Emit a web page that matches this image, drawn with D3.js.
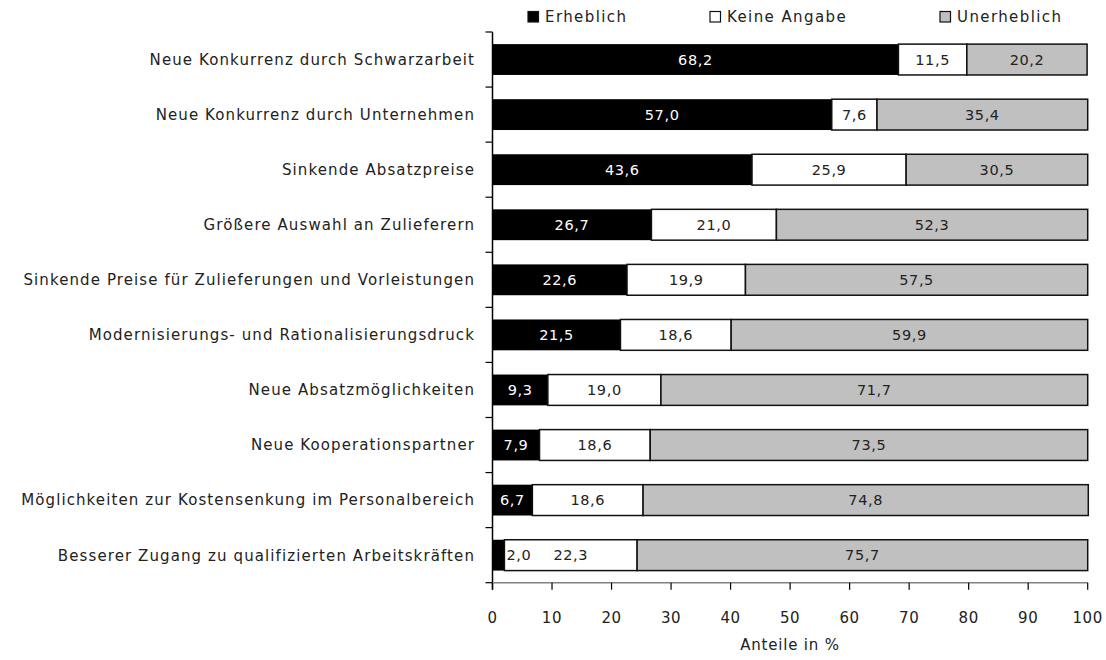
<!DOCTYPE html>
<html><head><meta charset="utf-8">
<script src="https://cdn.jsdelivr.net/npm/d3@7"></script>
<style>
html,body{margin:0;padding:0;background:#fff;}
text{font-family:"DejaVu Sans",sans-serif;}
</style></head>
<body>
<svg id="chart" width="1106" height="660"></svg>
<script>
const categories = [
  "Neue Konkurrenz durch Schwarzarbeit",
  "Neue Konkurrenz durch Unternehmen",
  "Sinkende Absatzpreise",
  "Größere Auswahl an Zulieferern",
  "Sinkende Preise für Zulieferungen und Vorleistungen",
  "Modernisierungs- und Rationalisierungsdruck",
  "Neue Absatzmöglichkeiten",
  "Neue Kooperationspartner",
  "Möglichkeiten zur Kostensenkung im Personalbereich",
  "Besserer Zugang zu qualifizierten Arbeitskräften"
];
const erheblich   = [68.2, 57.0, 43.6, 26.7, 22.6, 21.5, 9.3, 7.9, 6.7, 2.0];
const keineAngabe = [11.5, 7.6, 25.9, 21.0, 19.9, 18.6, 19.0, 18.6, 18.6, 22.3];
const unerheblich = [20.2, 35.4, 30.5, 52.3, 57.5, 59.9, 71.7, 73.5, 74.8, 75.7];
const seriesNames = ["Erheblich", "Keine Angabe", "Unerheblich"];
const xTicks = [0,10,20,30,40,50,60,70,80,90,100];
const xTitle = "Anteile in %";

const fills = ["#000000", "#ffffff", "#c0c0c0"];
const labelColors = ["#ffffff", "#222222", "#222222"];
const seriesValues = [erheblich, keineAngabe, unerheblich];

const svg = d3.select("#chart");
const pLeft = 492.5, pRight = 1087.7, pTop = 32, pBottom = 582.7;

const x = d3.scaleLinear().domain([0,100]).range([pLeft, pRight]);
const y = d3.scaleBand().domain(categories).range([pTop, pBottom]).paddingInner(0.44).paddingOuter(0.22);

const stackData = categories.map((c,i) => { const o = {cat:c}; seriesNames.forEach((n,k)=>o[n]=seriesValues[k][i]); return o; });
const stacked = d3.stack().keys(seriesNames)(stackData);

const fmt = v => v.toFixed(1).replace(".", ",");

// bars
stacked.forEach((layer, k) => {
  svg.append("g").selectAll("rect").data(layer).join("rect")
    .attr("x", d => x(d[0]))
    .attr("y", d => y(d.data.cat))
    .attr("width", d => x(d[1]) - x(d[0]))
    .attr("height", y.bandwidth())
    .attr("fill", fills[k])
    .attr("stroke", "#111")
    .attr("stroke-width", k === 0 ? 0 : 1.5);
});

// value labels
stacked.forEach((layer, k) => {
  layer.forEach(d => {
    const v = d.data[seriesNames[k]];
    const w = x(d[1]) - x(d[0]);
    const t = svg.append("text")
      .attr("y", y(d.data.cat) + y.bandwidth()/2)
      .attr("dy", "0.36em")
      .attr("font-size", "14.5px")
      .attr("letter-spacing", "0.6px")
      .text(fmt(v));
    if (w < 24) {
      t.attr("x", x(d[1]) + 2).attr("text-anchor", "start").attr("fill", "#222");
    } else {
      t.attr("x", (x(d[0]) + x(d[1]))/2).attr("text-anchor", "middle").attr("fill", labelColors[k]);
    }
  });
});

// y axis
svg.append("line").attr("x1", pLeft).attr("x2", pLeft).attr("y1", pTop).attr("y2", pBottom + 7)
  .attr("stroke", "#000").attr("stroke-width", 1.5);
const bounds = categories.map(c => y(c) - y.step()*y.paddingInner()/2);
bounds[0] = pTop;
bounds.push(pBottom);
svg.selectAll(".ytick").data(bounds).join("line")
  .attr("x1", pLeft - 7).attr("x2", pLeft).attr("y1", d => d).attr("y2", d => d)
  .attr("stroke", "#000").attr("stroke-width", 1.2);

// category labels
svg.selectAll(".ylab").data(categories).join("text")
  .attr("x", 475).attr("y", d => y(d) + y.bandwidth()/2)
  .attr("dy", "0.36em").attr("text-anchor", "end")
  .attr("font-size", "15px").attr("letter-spacing", "1.1px").attr("fill", "#222")
  .text(d => d);

// x axis
svg.append("line").attr("x1", pLeft).attr("x2", pRight).attr("y1", pBottom).attr("y2", pBottom)
  .attr("stroke", "#808080").attr("stroke-width", 1.5);
svg.selectAll(".xtick").data(xTicks).join("line")
  .attr("x1", d => x(d)).attr("x2", d => x(d)).attr("y1", pBottom).attr("y2", pBottom + 7)
  .attr("stroke", "#000").attr("stroke-width", 1.2);
svg.selectAll(".xlab").data(xTicks).join("text")
  .attr("x", d => x(d)).attr("y", 618).attr("dy", "0.36em")
  .attr("text-anchor", "middle").attr("font-size", "15px").attr("letter-spacing", "0.6px").attr("fill", "#222")
  .text(d => d);
svg.append("text").attr("x", 790).attr("y", 645).attr("dy", "0.36em")
  .attr("text-anchor", "middle").attr("font-size", "15px").attr("letter-spacing", "0.8px").attr("fill", "#222").text(xTitle);

// legend
const legendX = [528, 710, 940];
seriesNames.forEach((n,k) => {
  svg.append("rect").attr("x", legendX[k]).attr("y", 11.5).attr("width", 10.5).attr("height", 10.5)
    .attr("fill", fills[k]).attr("stroke", "#111").attr("stroke-width", 1.2);
  svg.append("text").attr("x", legendX[k] + 17).attr("y", 17).attr("dy", "0.36em")
    .attr("font-size", "15px").attr("letter-spacing", "1.4px").attr("fill", "#222").text(n);
});
</script>
</body></html>
